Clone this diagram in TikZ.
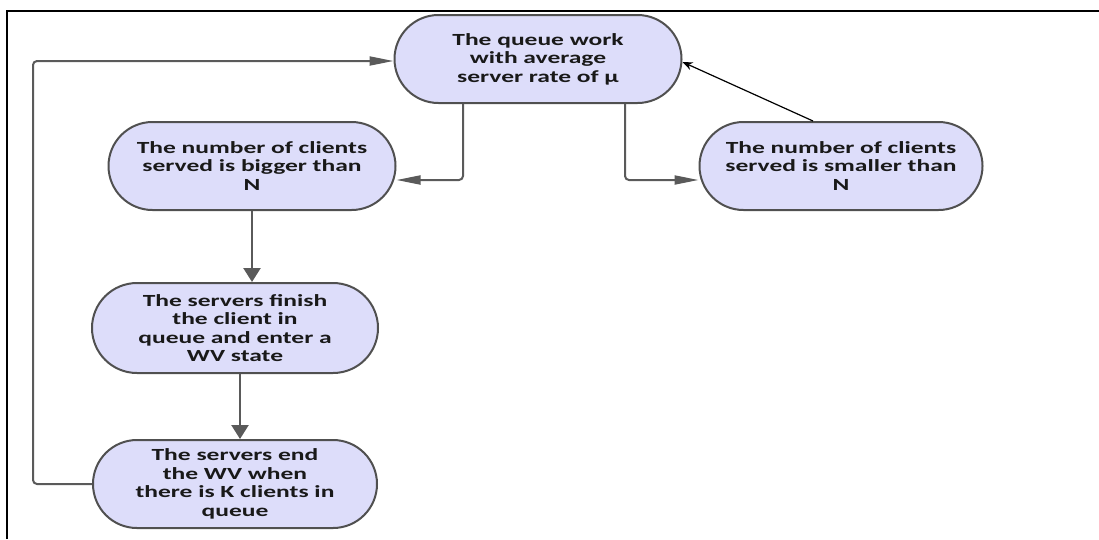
\documentclass[tikz,border=0pt]{standalone}
\usepackage{fontspec}
\setmainfont{Carlito}[FakeStretch=1.5]
\usepackage{xcolor}
\usetikzlibrary{shapes.misc,arrows.meta}
\definecolor{boxfill}{RGB}{221,221,250}
\definecolor{boxline}{RGB}{80,80,80}
\definecolor{linkgray}{RGB}{90,90,90}
\tikzset{
  qbox/.style={rounded rectangle, fill=boxfill, draw=boxline, line width=2pt,
    align=center, inner sep=0pt, minimum height=88pt,
    font=\bfseries\fontsize{17}{18.5}\selectfont, text=black!90},
  flowh/.style={draw=linkgray, line width=2pt, rounded corners=4pt,
    -{Triangle[length=24pt,width=9pt]}},
  flowv/.style={draw=linkgray, line width=2.4pt,
    -{Triangle[length=14pt,width=17pt]}},
  backlink/.style={draw=black, line width=1.2pt, -{Stealth[length=10pt,width=8pt]}}
}
\begin{document}
\begin{tikzpicture}[x=1pt, y=-1pt]
        \useasboundingbox (0,0) rectangle (1099,539);
        \draw[line width=1.5pt] (7,539) -- (7,11) -- (1099,11);
        \node[qbox, minimum width=287pt] (work) at (538,59)
        {The queue work\\with average\\server rate of μ};
        \node[qbox, minimum width=287pt] (bigger) at (252,166)
        {The number of clients\\served is bigger than\\N};
        \node[qbox, minimum width=283pt] (smaller) at (841,166)
        {The number of clients\\served is smaller than\\N};
        \node[qbox, minimum width=286pt, minimum height=90pt] (finish) at (235,328)
        {The servers finish\\the client in\\queue and enter a\\WV state};
        \node[qbox, minimum width=284pt] (wvend) at (235,484)
        {The servers end\\the WV when\\there is K clients in\\queue};
        \coordinate (loop) at (33,61);
        \draw[flowh] ([xshift=-75pt]work.south) |- ([yshift=-14pt]bigger.east);
        \draw[flowh] ([xshift=87pt]work.south) |- ([yshift=-14pt]smaller.west);
        \draw[backlink] ([xshift=-28pt]smaller.north) -- ([yshift=-3pt]work.east);
        \draw[flowv] (bigger.south) -- (bigger.south |- finish.north);
        \draw[flowv] ([xshift=5pt]finish.south) -- ([xshift=5pt]finish.south |- wvend.north);
        \draw[flowh] (wvend.west) -| (loop) -- (loop -| work.west);
    \end{tikzpicture}
\end{document}
